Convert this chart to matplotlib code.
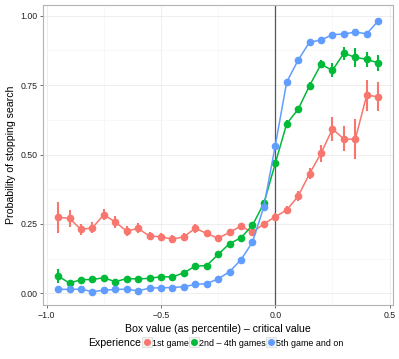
import numpy as np
import matplotlib.pyplot as plt
from matplotlib.lines import Line2D
from matplotlib.legend_handler import HandlerTuple

plt.rcParams['font.family'] = ['Liberation Sans', 'DejaVu Sans']

box_value = [-0.95, -0.90, -0.85, -0.80, -0.75, -0.70, -0.65, -0.60, -0.55, -0.50,
             -0.45, -0.40, -0.35, -0.30, -0.25, -0.20, -0.15, -0.10, -0.05, 0.00,
             0.05, 0.10, 0.15, 0.20, 0.25, 0.30, 0.35, 0.40, 0.45]

first_game = [0.274, 0.270, 0.230, 0.236, 0.283, 0.257, 0.224, 0.234, 0.206, 0.204,
              0.195, 0.204, 0.234, 0.216, 0.198, 0.220, 0.242, 0.220, 0.250, 0.276,
              0.300, 0.350, 0.431, 0.504, 0.592, 0.556, 0.555, 0.714, 0.708]
first_err = [0.055, 0.031, 0.021, 0.020, 0.020, 0.020, 0.018, 0.018, 0.015, 0.015,
             0.015, 0.015, 0.015, 0.013, 0.013, 0.013, 0.013, 0.012, 0.012, 0.012,
             0.015, 0.017, 0.020, 0.032, 0.042, 0.045, 0.072, 0.056, 0.052]

mid_games = [0.062, 0.037, 0.049, 0.050, 0.056, 0.042, 0.053, 0.052, 0.054, 0.060,
             0.059, 0.074, 0.098, 0.100, 0.140, 0.179, 0.200, 0.245, 0.324, 0.468,
             0.611, 0.663, 0.748, 0.825, 0.803, 0.865, 0.850, 0.843, 0.830]
mid_err = [0.025, 0.008, 0.008, 0.008, 0.008, 0.008, 0.008, 0.008, 0.008, 0.008,
           0.008, 0.008, 0.009, 0.009, 0.009, 0.010, 0.010, 0.010, 0.011, 0.012,
           0.012, 0.012, 0.013, 0.015, 0.025, 0.024, 0.034, 0.027, 0.029]

late_games = [0.015, 0.014, 0.015, 0.006, 0.011, 0.014, 0.015, 0.009, 0.019, 0.020,
              0.021, 0.024, 0.032, 0.035, 0.052, 0.078, 0.121, 0.184, 0.312, 0.532,
              0.761, 0.840, 0.905, 0.912, 0.932, 0.934, 0.941, 0.935, 0.981]
late_err = [0.004, 0.004, 0.004, 0.003, 0.004, 0.004, 0.004, 0.004, 0.004, 0.004,
            0.004, 0.004, 0.005, 0.005, 0.005, 0.006, 0.007, 0.008, 0.009, 0.010,
            0.009, 0.008, 0.007, 0.007, 0.006, 0.006, 0.006, 0.006, 0.005]

labels = ['1st game', '2nd \u2013 4th games', '5th game and on']
colors = ['#F8766D', '#00BA38', '#619CFF']

fig = plt.figure(figsize=(3.99, 3.59), dpi=100)
ax = fig.add_axes([43 / 399, 1 - 305 / 359, 350 / 399, 300 / 359])

ax.axvline(0, color='#555555', lw=0.9, zorder=1)

series = [(first_game, first_err), (mid_games, mid_err), (late_games, late_err)]
for (y, e), c in zip(series, colors):
    ax.errorbar(box_value, y, yerr=e, color=c, ecolor=c, elinewidth=1.5,
                capsize=0, lw=1.1, marker='o', ms=4.5, mec=c, zorder=3)

ax.set_xlim(-1.016, 0.515)
ax.set_ylim(-0.042, 1.0386)
ax.set_xticks([-1.0, -0.5, 0.0, 0.5])
ax.set_xticklabels(['\u22121.0', '\u22120.5', '0.0', '0.5'])
ax.set_yticks([0.0, 0.25, 0.5, 0.75, 1.0])
ax.set_yticklabels(['0.00', '0.25', '0.50', '0.75', '1.00'])
ax.set_xticks([-0.75, -0.25, 0.25], minor=True)
ax.set_yticks([0.125, 0.375, 0.625, 0.875], minor=True)
ax.grid(which='major', color='#EBEBEB', lw=0.6)
ax.grid(which='minor', color='#F5F5F5', lw=0.5)
ax.set_axisbelow(True)
for s in ax.spines.values():
    s.set_color('#B3B3B3')
    s.set_linewidth(0.8)
ax.tick_params(which='major', length=2.5, width=0.6, color='#555555',
               labelsize=6.3, labelcolor='#222222', pad=1.5)
ax.tick_params(which='minor', length=0)

ax.set_xlabel('Box value (as percentile) \u2013 critical value', fontsize=7.6, labelpad=3)
ax.set_ylabel('Probability of stopping search', fontsize=7.6, labelpad=3)

handles = [(Line2D([], [], color='#F2F2F2', marker='s', ms=6.5, mec='#D9D9D9', mew=0.5, lw=0),
            Line2D([], [], color=c, marker='o', ms=4, lw=0)) for c in colors]
fig.text(88 / 399, 1 - 343 / 359, 'Experience', fontsize=7.6, va='center', ha='left')
leg = fig.legend(handles, labels, loc='center left', bbox_to_anchor=(144 / 399, 1 - 343 / 359),
                 ncol=3, frameon=False, fontsize=6.4, handlelength=0.7,
                 handletextpad=0.2, columnspacing=0.25, borderpad=0, borderaxespad=0,
                 handler_map={tuple: HandlerTuple(ndivide=1, pad=0)})

fig.savefig('out.png', dpi=100)
